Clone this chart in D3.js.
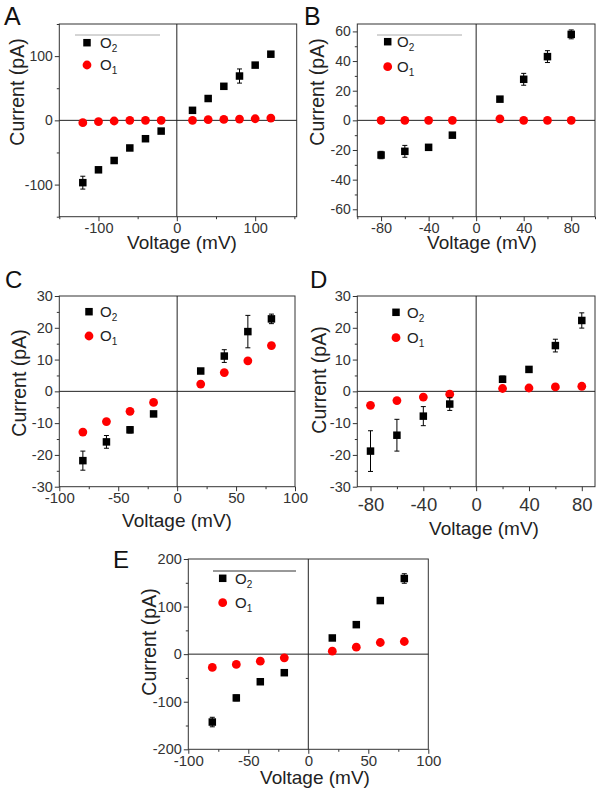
<!DOCTYPE html>
<html><head><meta charset="utf-8">
<script src="https://cdn.jsdelivr.net/npm/d3@7"></script>
<style>
body{margin:0;background:#fff}
svg{display:block}
text{font-family:Arial,"Liberation Sans",Helvetica,sans-serif}
</style>
</head><body>
<svg id="chart" width="601" height="793"></svg>
<script>
// ---------------- DATA ----------------
const voltsA = [-120,-100,-80,-60,-40,-20,20,40,60,80,100,120];
const aO2    = [-97,-77,-62.5,-43,-28.6,-16.7,15.6,34,53,69,86,103];
const aO2err = [10,4,4,2,2,1,1,1,4,11,2,2];
const aO1    = [-3.6,-2,-1,0,0,0,0,1,1.5,2,2.5,3.5];
const aO1err = [2,1.5,2,2,2,1.5,1,1.5,2,2,2,2];

const voltsB = [-80,-60,-40,-20,20,40,60,80];
const bO2    = [-23.4,-20.9,-18.2,-10,14.3,27.7,43,58];
const bO2err = [2.5,4,1,1,1,4,4,3];
const bO1    = [0,0,0,0,1,0,0,0];
const bO1err = [0.3,0.3,0.3,0.3,0.3,0.3,0.3,0.3];

const voltsC = [-80,-60,-40,-20,20,40,60,80];
const cO2    = [-21.8,-15.9,-12.1,-7.1,6.4,11.1,18.8,22.8];
const cO2err = [3,2,1,0.5,0.5,2,5.1,1.5];
const cO1    = [-12.8,-9.5,-6.3,-3.5,2.3,5.9,9.6,14.4];
const cO1err = [0.3,0.3,0.3,0.3,0.3,0.3,0.3,0.3];

const voltsD = [-80,-60,-40,-20,20,40,60,80];
const dO2    = [-18.8,-13.8,-7.8,-4,3.8,6.9,14.4,22.3];
const dO2err = [6.4,5,3,2,1,0.5,2,2.4];
const dO1    = [-4.4,-2.9,-1.8,-0.9,0.9,1.05,1.4,1.6];
const dO1err = [0.3,0.3,0.3,0.3,0.3,0.3,0.3,0.3];

const voltsE = [-80,-60,-40,-20,20,40,60,80];
const eO2    = [-142.7,-92,-58,-39,34,62,112.6,159];
const eO2err = [10,6,3,2,3,3,6,10];
const eO1    = [-28,-21.7,-14.7,-7.7,6.3,14.7,24.5,26.6];
const eO1err = [1,1,1,1,1,1,1,1];

// tick labels
const xTicksA = [-100,0,100],          xMinorA = [-150,-50,50,150];
const yTicksA = [-100,0,100],          yMinorA = [-150,-50,50,150];
const xTicksB = [-80,-40,0,40,80],     xMinorB = [-100,-60,-20,20,60,100];
const yTicksB = [-60,-40,-20,0,20,40,60], yMinorB = [-50,-30,-10,10,30,50];
const xTicksC = [-100,-50,0,50,100],   xMinorC = [-75,-25,25,75];
const yTicksC = [-30,-20,-10,0,10,20,30], yMinorC = [-25,-15,-5,5,15,25];
const xTicksD = [-80,-40,0,40,80],     xMinorD = [-60,-20,20,60];
const yTicksD = [-30,-20,-10,0,10,20,30], yMinorD = [-25,-15,-5,5,15,25];
const xTicksE = [-100,-50,0,50,100],   xMinorE = [-75,-25,25,75];
const yTicksE = [-200,-100,0,100,200], yMinorE = [-150,-50,50,150];

const seriesNames = ["O2","O1"];

// ---------------- LAYOUT ----------------
const panels = [
  {letter:"A", volts:voltsA, o2:aO2, o2e:aO2err, o1:aO1, o1e:aO1err,
   xd:[-150,153], yd:[-150,150], xt:xTicksA, xm:xMinorA, yt:yTicksA, ym:yMinorA,
   box:[59.3,296.7,24,216.7], xFont:14.5, xPad:2, yFont:14,
   letterPos:[4,25,25], xTitle:[182,249], yTitle:[24,92],
   legLine:[75,160,35,"#aaa"], leg:[87,42.7,65,100]},
  {letter:"B", volts:voltsB, o2:bO2, o2e:bO2err, o1:bO1, o1e:bO1err,
   xd:[-100,100], yd:[-65,65], xt:xTicksB, xm:xMinorB, yt:yTicksB, ym:yMinorB,
   box:[357.3,595,24,216.7], xFont:14.5, xPad:2, yFont:14,
   letterPos:[304,25,25], xTitle:[482,249], yTitle:[324,92],
   legLine:[377,462,35,"#aaa"], leg:[387.7,41.7,66.7,397]},
  {letter:"C", volts:voltsC, o2:cO2, o2e:cO2err, o1:cO1, o1e:cO1err,
   xd:[-100,100], yd:[-30,30], xt:xTicksC, xm:xMinorC, yt:yTicksC, ym:yMinorC,
   box:[59.3,295,296,486.7], xFont:15, xPad:1, yFont:14.5,
   letterPos:[5,288,24], xTitle:[177,527], yTitle:[26,383],
   legLine:null, leg:[89,311.7,336,100]},
  {letter:"D", volts:voltsD, o2:dO2, o2e:dO2err, o1:dO1, o1e:dO1err,
   xd:[-90,90], yd:[-30,30], xt:xTicksD, xm:xMinorD, yt:yTicksD, ym:yMinorD,
   box:[357.3,595,296,486.7], xFont:18.5, xPad:7, yFont:14.5,
   letterPos:[310,288,24], xTitle:[484,535], yTitle:[326,380],
   legLine:null, leg:[396,312.3,337.7,407]},
  {letter:"E", volts:voltsE, o2:eO2, o2e:eO2err, o1:eO1, o1e:eO1err,
   xd:[-100,100], yd:[-200,200], xt:xTicksE, xm:xMinorE, yt:yTicksE, ym:yMinorE,
   box:[188.3,428.3,559,749.3], xFont:15, xPad:2, yFont:14.5,
   letterPos:[113,568,24], xTitle:[315,784], yTitle:[156,642],
   legLine:[213,296,571,"#333"], leg:[222.7,578.3,602.7,235]}
];

const svg = d3.select("#chart");
const FRAME = "#333", TXT = "#333";

function drawPanel(p){
  const g = svg.append("g");
  const [L,R,T,B] = p.box;
  const x = d3.scaleLinear().domain(p.xd).range([L,R]);
  const y = d3.scaleLinear().domain(p.yd).range([B,T]);
  const fmt = d => String(d);

  // minor ticks
  g.append("g").attr("transform",`translate(0,${B})`)
    .call(d3.axisBottom(x).tickValues(p.xm.filter(v=>v>=p.xd[0]&&v<=p.xd[1])).tickSize(2.5).tickFormat(""))
    .call(s=>{s.select(".domain").remove(); s.selectAll("line").attr("stroke",FRAME);});
  g.append("g").attr("transform",`translate(${L},0)`)
    .call(d3.axisLeft(y).tickValues(p.ym.filter(v=>v>=p.yd[0]&&v<=p.yd[1])).tickSize(2.5).tickFormat(""))
    .call(s=>{s.select(".domain").remove(); s.selectAll("line").attr("stroke",FRAME);});

  // major ticks
  g.append("g").attr("transform",`translate(0,${B})`)
    .call(d3.axisBottom(x).tickValues(p.xt).tickSize(4.5).tickPadding(p.xPad).tickFormat(fmt))
    .call(s=>{
      s.select(".domain").remove();
      s.selectAll("line").attr("stroke",FRAME);
      s.selectAll("text").attr("fill",TXT).style("font-size",p.xFont+"px")
        .style("font-family","Arial, 'Liberation Sans', sans-serif");
    });
  g.append("g").attr("transform",`translate(${L},0)`)
    .call(d3.axisLeft(y).tickValues(p.yt).tickSize(4.5).tickPadding(2).tickFormat(fmt))
    .call(s=>{
      s.select(".domain").remove();
      s.selectAll("line").attr("stroke",FRAME);
      s.selectAll("text").attr("fill",TXT).style("font-size",p.yFont+"px")
        .style("font-family","Arial, 'Liberation Sans', sans-serif");
    });

  // frame
  g.append("rect").attr("x",L).attr("y",T).attr("width",R-L).attr("height",B-T)
    .attr("fill","none").attr("stroke",FRAME).attr("stroke-width",1);
  // zero lines
  g.append("line").attr("x1",x(0)).attr("x2",x(0)).attr("y1",T).attr("y2",B)
    .attr("stroke","#222").attr("stroke-width",1);
  g.append("line").attr("x1",L).attr("x2",R).attr("y1",y(0)).attr("y2",y(0))
    .attr("stroke","#222").attr("stroke-width",1);

  // data
  const rows = p.volts.map((v,i)=>({v, o2:p.o2[i], o2e:p.o2e[i], o1:p.o1[i], o1e:p.o1e[i]}));
  const cap = 2.5;
  function errBars(key, ekey){
    const eb = g.append("g").attr("stroke","#000").attr("stroke-width",1);
    rows.forEach(r=>{
      const y1 = y(r[key]-r[ekey]), y2 = y(r[key]+r[ekey]), cx = x(r.v);
      eb.append("line").attr("x1",cx).attr("x2",cx).attr("y1",y1).attr("y2",y2);
      eb.append("line").attr("x1",cx-cap).attr("x2",cx+cap).attr("y1",y1).attr("y2",y1);
      eb.append("line").attr("x1",cx-cap).attr("x2",cx+cap).attr("y1",y2).attr("y2",y2);
    });
  }
  errBars("o1","o1e");
  g.append("g").selectAll("circle").data(rows).join("circle")
    .attr("cx",d=>x(d.v)).attr("cy",d=>y(d.o1)).attr("r",4.4).attr("fill","#ff0000");
  errBars("o2","o2e");
  const s = 7.5;
  g.append("g").selectAll("rect").data(rows).join("rect")
    .attr("x",d=>x(d.v)-s/2).attr("y",d=>y(d.o2)-s/2).attr("width",s).attr("height",s).attr("fill","#000");

  // legend
  if(p.legLine){
    g.append("line").attr("x1",p.legLine[0]).attr("x2",p.legLine[1])
      .attr("y1",p.legLine[2]).attr("y2",p.legLine[2]).attr("stroke",p.legLine[3]).attr("stroke-width",1);
  }
  const [lx, ly2, ly1, tx] = p.leg;
  g.append("rect").attr("x",lx-s/2).attr("y",ly2-s/2).attr("width",s).attr("height",s).attr("fill","#000");
  g.append("circle").attr("cx",lx).attr("cy",ly1).attr("r",4.4).attr("fill","#ff0000");
  function legText(yc, sub){
    const t = g.append("text").attr("x",tx).attr("y",yc+5.3).attr("fill","#222").style("font-size","15px");
    t.append("tspan").text("O");
    t.append("tspan").attr("dy",4).style("font-size","10px").text(sub);
  }
  legText(ly2, seriesNames[0].slice(1));
  legText(ly1, seriesNames[1].slice(1));

  // axis titles
  g.append("text").attr("x",p.xTitle[0]).attr("y",p.xTitle[1]).attr("text-anchor","middle")
    .attr("fill","#222").style("font-size","19px").text("Voltage (mV)");
  g.append("text").attr("transform",`translate(${p.yTitle[0]},${p.yTitle[1]}) rotate(-90)`)
    .attr("text-anchor","middle").attr("fill","#222").style("font-size","19.5px").text("Current (pA)");

  // panel letter
  g.append("text").attr("x",p.letterPos[0]).attr("y",p.letterPos[1]).attr("fill","#111")
    .style("font-size",p.letterPos[2]+"px").text(p.letter);
}

panels.forEach(drawPanel);
</script>
</body></html>
